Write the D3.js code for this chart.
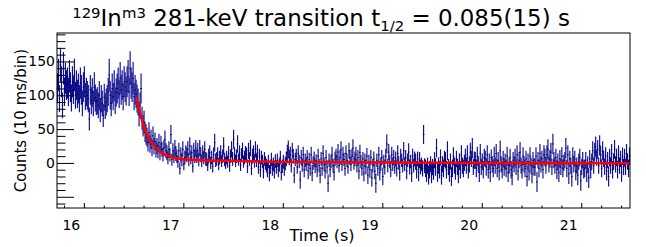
<!DOCTYPE html>
<html>
<head>
<meta charset="utf-8">
<script src="https://cdn.jsdelivr.net/npm/d3@7"></script>
<style>
  body { margin: 0; background: #fff; }
  svg { display: block; }
  text { font-family: "DejaVu Sans", sans-serif; fill: #000; }
</style>
</head>
<body>
<div id="chart"></div>
<script>
// histogram binning (10 ms/bin)
const binLow = 15.73;
const binWidth = 0.01;

// counts per bin
const counts = [
  110,130,95,145,120,85,140,105,125,115,
  118,105,128,112,96,120,108,130,100,115,
  102,110,95,118,108,88,112,120,98,105,
  100,95,65,108,92,104,88,112,96,90,
  92,85,100,78,95,88,70,97,84,90,
  95,105,130,100,88,110,98,115,92,104,
  110,118,102,125,108,115,98,120,112,106,
  120,128,105,140,118,112,125,98,108,102,
  95,90,72,85,110,66,55,60,46,42,
  38,30,45,28,35,22,40,25,32,20,
  25,18,30,15,28,20,12,22,35,18,
  15,8,20,12,42,5,18,10,22,14,
  10,2,18,-8,12,5,20,-2,8,15,
  12,20,5,25,8,15,-5,18,10,22,
  10,18,5,22,12,3,15,8,20,6,
  5,-3,10,15,0,8,-5,12,30,4,
  6,12,-2,8,15,3,10,25,5,0,
  8,2,14,-4,10,20,6,35,12,3,
  10,28,5,15,-3,12,18,2,8,14,
  12,-5,18,6,22,-8,10,15,3,20,
  4,15,-6,10,-10,8,2,-12,6,0,
  -4,-10,2,-15,-6,5,-8,-2,-12,3,
  -6,4,-10,-3,8,-14,-5,2,-8,-1,
  6,15,20,8,12,-4,18,10,-18,5,
  10,-6,14,2,-25,8,-3,12,-10,4,
  -2,8,-12,5,-8,12,-15,0,6,-5,
  3,-10,10,-4,-18,6,-8,14,-2,-12,
  8,-6,-30,4,-10,2,12,-4,-14,6,
  10,2,16,-4,8,20,-2,12,5,-8,
  14,4,-6,18,8,-2,10,22,0,6,
  12,-4,8,-12,15,2,-8,6,-15,4,
  -6,10,-18,2,-10,8,-22,-4,6,-12,
  -30,4,-8,12,-14,-2,8,-20,2,-6,
  10,28,-4,16,2,-10,12,-2,8,-6,
  6,-8,14,0,-14,10,4,-4,18,-2,
  8,-12,4,16,-6,2,-15,10,-4,6,
  2,-10,6,-14,4,-6,-2,-8,42,-4,
  -8,-14,-4,-18,-10,-2,-16,-6,-12,4,
  -6,22,-14,-4,-10,8,-18,-2,-8,6,
  4,-10,18,-6,-14,2,-20,-8,10,-4,
  -12,6,-6,-16,2,-10,12,-4,-8,0,
  8,-4,12,-10,-2,16,6,22,-6,4,
  4,-8,10,-2,-14,14,-6,2,-10,8,
  6,-6,12,-10,2,-14,8,-2,-8,10,
  -4,14,-8,4,-12,18,-2,-10,6,-6,
  2,-8,10,-14,-4,8,-10,-18,4,-2,
  8,-6,12,-12,4,16,-4,-10,10,-2,
  -8,6,-20,2,-12,10,-4,-16,4,-6,
  -6,10,-28,4,-8,14,-2,6,-10,12,
  8,-4,12,20,-2,6,16,-6,28,4,
  -4,8,-10,2,-14,6,-6,10,-8,0,
  4,22,-8,12,-16,6,-4,-20,10,-2,
  6,-12,-4,-18,2,8,-26,-6,4,-10,
  -8,4,-14,-2,-22,6,-10,2,18,-4,
  16,24,8,20,-4,26,12,-8,18,6,
  -6,10,-12,4,-20,8,-4,14,-10,2,
  20,-2,8,-10,12,-4,6,-14,10,-6,
  8,-6,14,2,-8,10
];

// error per bin
const errors = [
  22,24,20,25,23,19,24,21,23,22,
  23,21,24,22,20,23,21,24,20,22,
  21,22,20,23,22,19,22,23,20,21,
  21,20,17,22,20,21,19,22,20,19,
  20,19,21,18,20,19,17,20,19,20,
  20,21,24,21,19,22,20,22,20,21,
  22,23,21,24,22,22,20,23,22,21,
  23,24,21,25,23,22,24,20,22,21,
  21,20,18,19,22,17,16,17,15,15,
  14,13,15,13,14,12,14,12,13,12,
  12,11,13,11,12,11,10,12,13,11,
  11,10,12,10,14,9,11,10,12,11,
  10,9,12,9,11,10,12,9,10,11,
  11,12,10,13,10,11,9,12,10,12,
  10,12,10,12,11,9,11,10,12,10,
  10,9,11,11,9,10,9,11,13,10,
  10,11,9,10,11,9,10,13,10,9,
  10,9,11,9,10,12,10,14,11,9,
  10,13,9,11,9,10,12,9,10,11,
  11,10,12,10,12,10,11,11,10,12,
  10,12,10,11,11,10,10,11,10,10,
  10,11,10,12,10,10,11,10,11,10,
  10,10,11,10,10,12,10,10,11,10,
  11,12,13,11,12,10,12,11,12,10,
  11,10,12,10,13,11,10,12,11,10,
  10,11,12,10,11,12,12,10,11,10,
  10,11,11,10,12,10,11,12,10,11,
  11,10,13,10,11,10,12,10,12,11,
  11,10,12,10,11,12,10,12,10,11,
  12,10,10,12,11,10,11,13,10,11,
  12,10,11,12,12,10,11,10,12,10,
  11,12,13,10,12,11,13,10,11,12,
  14,10,11,12,12,10,11,13,10,11,
  11,14,10,12,10,11,12,10,11,10,
  11,12,12,10,12,11,10,10,13,10,
  11,12,10,13,11,10,13,11,10,11,
  12,13,11,13,12,11,10,12,14,11,
  13,14,12,14,13,12,14,12,13,12,
  13,14,14,12,13,12,14,12,13,12,
  12,13,14,12,14,12,14,13,13,12,
  13,12,12,14,12,13,14,12,13,12,
  13,12,14,13,12,14,12,15,12,13,
  12,13,14,12,14,14,12,12,13,13,
  12,13,14,13,12,14,12,12,13,14,
  12,14,13,12,14,15,12,13,12,13,
  12,13,14,14,12,13,13,15,12,12,
  13,12,14,14,12,15,12,13,13,12,
  13,12,15,12,14,13,12,14,12,13,
  13,13,15,12,13,14,12,12,13,14,
  13,12,14,15,12,13,14,12,15,12,
  12,13,14,12,14,13,12,13,13,12,
  12,15,13,14,15,12,12,15,13,12,
  12,14,12,15,12,13,15,12,12,13,
  13,12,14,12,15,13,13,12,14,12,
  14,15,12,14,12,15,13,13,14,12,
  12,13,14,12,15,13,12,14,13,12,
  14,12,13,13,14,12,12,14,13,12,
  13,12,14,12,13,13
];

// fit curve, points
const fitTime   = [16.53, 16.56, 16.60, 16.63, 16.68, 16.73, 16.78, 16.83, 16.93, 17.03, 17.23, 17.53, 18.03, 19.03, 20.03, 21.49];
const fitCounts = [97, 77, 55, 43, 30, 21, 15, 11, 7, 5, 3.5, 3, 1.5, 0.5, 0, -0.5];

// axis ticks
const xMajor = [16, 17, 18, 19, 20, 21];
const yMajor = [-50, 0, 50, 100, 150];
const yLabeled = [0, 50, 100, 150];

const width = 646;
const height = 247;
const marginTop = 33;
const marginRight = 16;
const marginBottom = 39;
const marginLeft = 57;

const svg = d3.select("#chart").append("svg")
    .attr("width", width)
    .attr("height", height);

const x = d3.scaleLinear([15.73, 21.49], [marginLeft, width - marginRight]);
const y = d3.scaleLinear([-66.6, 192], [height - marginBottom, marginTop]);

const bins = counts.map((c, i) => ({
    t: binLow + (i + 0.5) * binWidth,
    c: c,
    e: errors[i]
}));

// error bars
svg.append("g")
    .attr("stroke", "#0c0c94")
    .attr("stroke-width", 1.15)
    .selectAll("line")
    .data(bins)
    .join("line")
    .attr("x1", d => x(d.t))
    .attr("x2", d => x(d.t))
    .attr("y1", d => y(d.c - d.e))
    .attr("y2", d => y(d.c + d.e));

// bin markers
svg.append("g")
    .attr("fill", "#000")
    .selectAll("rect")
    .data(bins)
    .join("rect")
    .attr("x", d => x(d.t) - 0.75)
    .attr("y", d => y(d.c) - 0.5)
    .attr("width", 1.5)
    .attr("height", 1);

// fit
const line = d3.line()
    .x((d, i) => x(fitTime[i]))
    .y(d => y(d))
    .curve(d3.curveMonotoneX);

svg.append("path")
    .attr("fill", "none")
    .attr("stroke", "#ff0000")
    .attr("stroke-width", 2.5)
    .attr("d", line(fitCounts));

// frame
svg.append("rect")
    .attr("x", marginLeft)
    .attr("y", marginTop)
    .attr("width", width - marginLeft - marginRight)
    .attr("height", height - marginTop - marginBottom)
    .attr("fill", "none")
    .attr("stroke", "#000")
    .attr("stroke-width", 1);

// x axis: ticks point up into the frame
const xMinor = d3.range(15.8, 21.49, 0.2).filter(v => !xMajor.some(m => Math.abs(m - v) < 1e-6));
svg.append("g")
    .attr("transform", `translate(0,${height - marginBottom})`)
    .call(d3.axisBottom(x).tickValues(xMinor).tickSize(-2.5).tickFormat(""))
    .call(g => g.select(".domain").remove());
svg.append("g")
    .attr("transform", `translate(0,${height - marginBottom})`)
    .call(d3.axisBottom(x).tickValues(xMajor).tickSize(-5).tickPadding(12).tickFormat(d3.format("d")))
    .call(g => g.select(".domain").remove())
    .call(g => g.selectAll("text")
        .attr("dx", -13)
        .attr("font-size", 14)
        .attr("font-family", "DejaVu Sans"));

// y axis: ticks point right into the frame
const yMinor = d3.range(-60, 192, 10).filter(v => v % 50 !== 0);
svg.append("g")
    .attr("transform", `translate(${marginLeft},0)`)
    .call(d3.axisLeft(y).tickValues(yMinor).tickSize(-8.5).tickFormat(""))
    .call(g => g.select(".domain").remove());
svg.append("g")
    .attr("transform", `translate(${marginLeft},0)`)
    .call(d3.axisLeft(y).tickValues(yMajor).tickSize(-17).tickPadding(2)
        .tickFormat(d => yLabeled.includes(d) ? d : ""))
    .call(g => g.select(".domain").remove())
    .call(g => g.selectAll("text")
        .attr("x", -2)
        .attr("font-size", 14)
        .attr("font-family", "DejaVu Sans"));

// axis titles
svg.append("text")
    .attr("x", 322)
    .attr("y", 241)
    .attr("text-anchor", "middle")
    .attr("font-size", 16)
    .text("Time (s)");

svg.append("text")
    .attr("transform", `translate(26,${(marginTop + height - marginBottom) / 2}) rotate(-90)`)
    .attr("text-anchor", "middle")
    .attr("font-size", 15)
    .text("Counts (10 ms/bin)");

// title
const title = svg.append("text")
    .attr("x", 321)
    .attr("y", 26)
    .attr("text-anchor", "middle")
    .attr("font-size", 22);
title.append("tspan").attr("font-size", "0.65em").attr("dy", -8).text("129");
title.append("tspan").attr("dy", 8).text("In");
title.append("tspan").attr("font-size", "0.65em").attr("dy", -8).text("m3");
title.append("tspan").attr("dy", 8).text(" 281-keV transition t");
title.append("tspan").attr("font-size", "0.65em").attr("dy", 5).text("1/2");
title.append("tspan").attr("dy", -5).text(" = 0.085(15) s");

const w = title.node().getBBox().width;
title.attr("font-size", 22 * 498 / w);
</script>
</body>
</html>
